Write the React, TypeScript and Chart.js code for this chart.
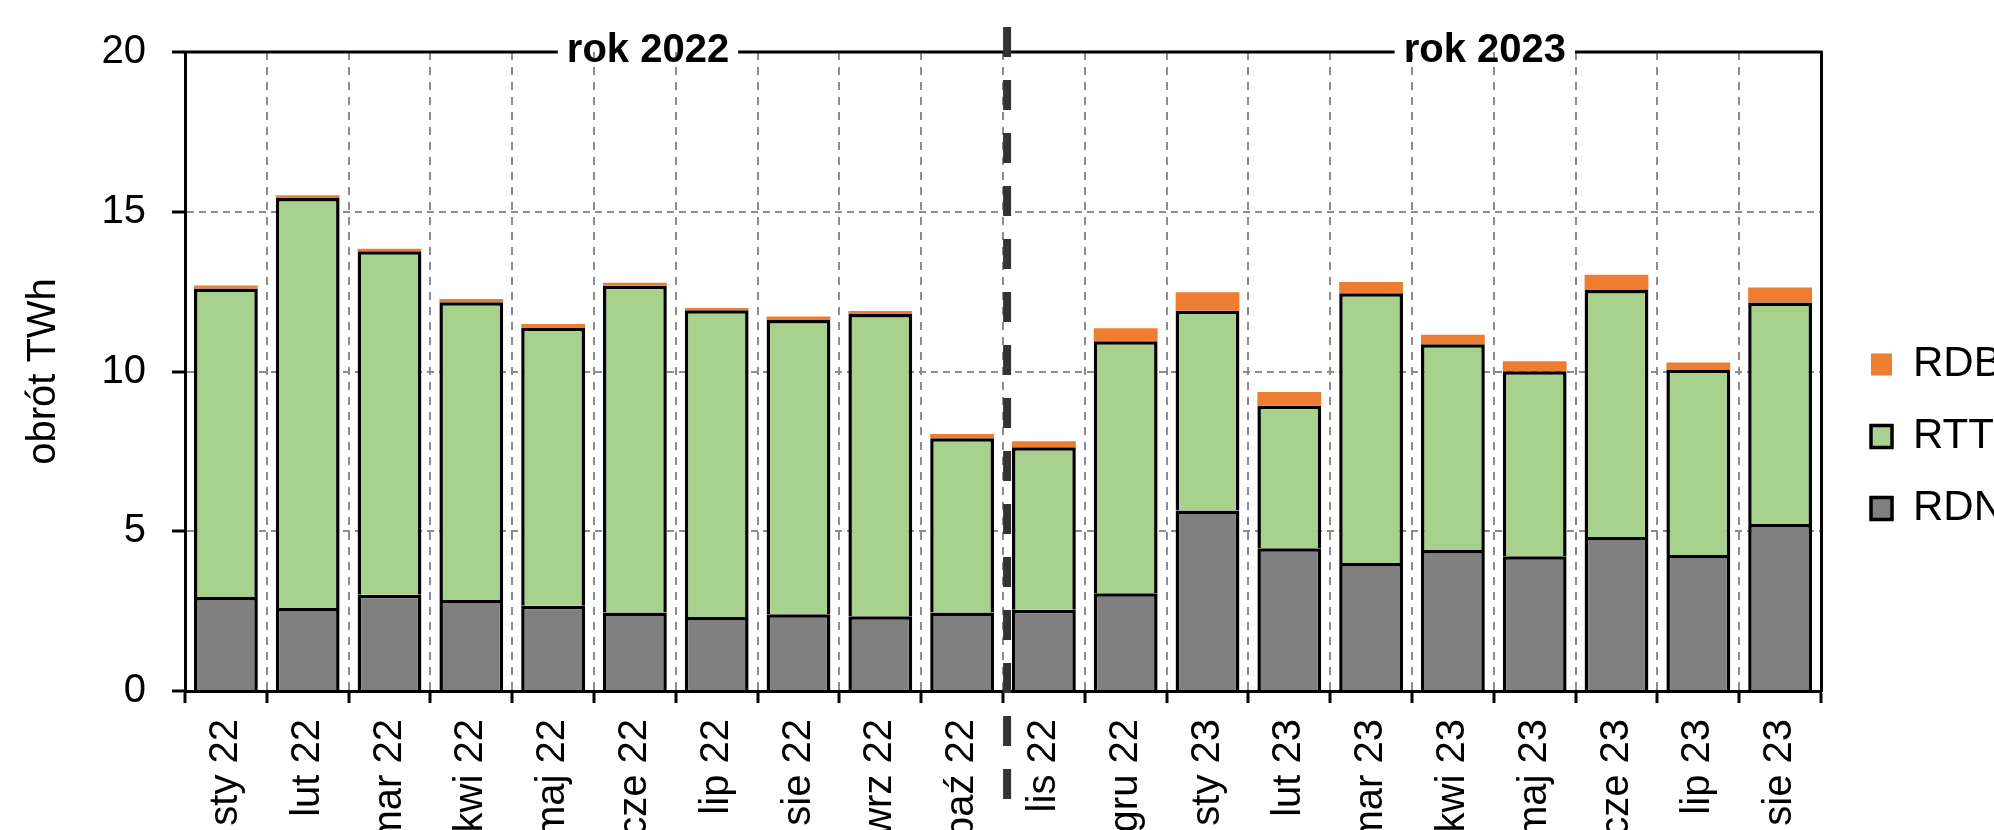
import React, { useEffect, useRef } from 'react';
import { Chart, registerables } from 'chart.js';

Chart.register(...registerables);

// ---- data ----
const categories = [
  'sty 22', 'lut 22', 'mar 22', 'kwi 22', 'maj 22', 'cze 22', 'lip 22', 'sie 22', 'wrz 22', 'paź 22',
  'lis 22', 'gru 22', 'sty 23', 'lut 23', 'mar 23', 'kwi 23', 'maj 23', 'cze 23', 'lip 23', 'sie 23',
];
const rdnValues = [2.94, 2.6, 3.01, 2.85, 2.67, 2.46, 2.32, 2.4, 2.34, 2.46, 2.54, 3.06, 5.65, 4.47, 4.01, 4.41, 4.22, 4.82, 4.26, 5.23];
const rttValues = [9.66, 12.83, 10.75, 9.32, 8.71, 10.22, 9.6, 9.21, 9.46, 5.45, 5.09, 7.89, 6.25, 4.46, 8.44, 6.44, 5.79, 7.73, 5.8, 6.93];
const rdbValues = [0.09, 0.09, 0.08, 0.1, 0.11, 0.1, 0.07, 0.11, 0.09, 0.13, 0.19, 0.4, 0.58, 0.43, 0.35, 0.3, 0.31, 0.48, 0.22, 0.47];
const seriesLabels = ['RDN', 'RTT', 'RDB'];
const yMin = 0;
const yMax = 20;
const yStep = 5;
const yTitle = 'obrót TWh';
const yearLabels = ['rok 2022', 'rok 2023'];

// ---- styling / annotation placement ----
const FONT = "'Liberation Sans', Arial, Helvetica, sans-serif";
const COLORS = ['#808080', '#A9D18E', '#ED7D31'];
const GRID = '#8c8c8c';
const YEAR_LABEL_INDEX = [5.16, 15.39];
const DIVIDER_INDEX = 9.55;
const W = 2014;
const H = 873;

const annotations = {
  id: 'annotations',
  afterDraw(chart: any) {
    const { ctx, chartArea, scales } = chart;
    const x = scales.x;
    const y = scales.y;
    const top = y.getPixelForValue(yMax);
    const bottom = y.getPixelForValue(yMin);
    ctx.save();
    ctx.font = `bold 40px ${FONT}`;
    const items = yearLabels.map((t, i) => {
      const cx = x.getPixelForValue(YEAR_LABEL_INDEX[i]);
      const w = ctx.measureText(t).width;
      return { t, cx, a: cx - w / 2 - 9, b: cx + w / 2 + 9 };
    });
    // top frame line with gaps for the year labels
    ctx.strokeStyle = '#000';
    ctx.lineWidth = 3;
    ctx.setLineDash([]);
    ctx.beginPath();
    let start = chartArea.left - 1.5;
    items.forEach((it) => {
      ctx.moveTo(start, top);
      ctx.lineTo(it.a, top);
      start = it.b;
    });
    ctx.moveTo(start, top);
    ctx.lineTo(chartArea.right + 1.5, top);
    ctx.stroke();
    // year labels
    ctx.fillStyle = '#000';
    ctx.textAlign = 'center';
    ctx.textBaseline = 'middle';
    items.forEach((it) => ctx.fillText(it.t, it.cx, top - 1));
    // dashed year divider
    const dx = x.getPixelForValue(DIVIDER_INDEX);
    ctx.strokeStyle = '#333333';
    ctx.lineWidth = 8;
    ctx.lineCap = 'butt';
    ctx.setLineDash([30, 23]);
    ctx.beginPath();
    ctx.moveTo(dx, top - 25);
    ctx.lineTo(dx, bottom + 108);
    ctx.stroke();
    ctx.restore();
  },
};

export default function App() {
  const ref = useRef<HTMLCanvasElement>(null);

  useEffect(() => {
    if (!ref.current) return;
    Chart.defaults.font.family = FONT;
    Chart.defaults.color = '#000';
    const seriesData = [rdnValues, rttValues, rdbValues];
    const chart = new Chart(ref.current, {
      type: 'bar',
      data: {
        labels: categories,
        datasets: seriesLabels.map((label, i) => ({
          label,
          data: seriesData[i],
          backgroundColor: COLORS[i],
          borderColor: '#000',
          borderWidth: i === 2 ? 0 : 3.5,
          barPercentage: 0.78,
          categoryPercentage: 1,
        })),
      },
      options: {
        responsive: false,
        animation: false,
        events: [],
        layout: { padding: 0 },
        plugins: {
          tooltip: { enabled: false },
          title: {
            display: true,
            text: '',
            padding: { top: 42, bottom: 0 },
            font: { size: 10, lineHeight: 1 },
          },
          legend: {
            position: 'right',
            align: 'center',
            reverse: true,
            labels: {
              boxWidth: 21,
              boxHeight: 22,
              padding: 30,
              color: '#000',
              font: { size: 42, family: FONT },
            },
          },
        },
        scales: {
          x: {
            stacked: true,
            offset: true,
            grid: {
              offset: true,
              color: GRID,
              lineWidth: 2,
              tickLength: 12,
              tickColor: '#000',
              tickWidth: 3,
            },
            border: { display: true, color: '#000', width: 3, dash: [8, 7], z: 1 },
            ticks: {
              autoSkip: false,
              minRotation: 90,
              maxRotation: 90,
              padding: 16,
              color: '#000',
              font: { size: 40, family: FONT },
            },
            afterFit: (s: any) => {
              s.height = H - 691;
            },
          },
          y: {
            stacked: true,
            min: yMin,
            max: yMax,
            grid: {
              color: (c: any) =>
                c.tick && (c.tick.value === yMin || c.tick.value === yMax) ? 'rgba(0,0,0,0)' : GRID,
              lineWidth: 2,
              tickLength: 13,
              tickColor: '#000',
              tickWidth: 3,
            },
            border: { display: true, color: '#000', width: 3, dash: [7, 5], z: 1 },
            ticks: {
              stepSize: yStep,
              padding: 26,
              color: '#000',
              font: { size: 40, family: FONT },
            },
            title: {
              display: true,
              text: yTitle,
              color: '#000',
              padding: { top: 20, bottom: 0 },
              font: { size: 40, family: FONT },
            },
            afterFit: (s: any) => {
              s.width = 185;
            },
          },
          y2: {
            position: 'right',
            grid: { display: false, drawTicks: false },
            ticks: { display: false },
            border: { display: true, color: '#000', width: 3, z: 1 },
            afterFit: (s: any) => {
              s.width = 20;
            },
          },
        },
      },
      plugins: [annotations],
    } as any);
    return () => chart.destroy();
  }, []);

  return (
    <div
      style={{
        position: 'fixed',
        left: 0,
        top: 0,
        width: 1994,
        height: 830,
        overflow: 'hidden',
        background: '#fff',
      }}
    >
      <canvas ref={ref} width={W} height={H} style={{ display: 'block', width: W, height: H }} />
    </div>
  );
}
